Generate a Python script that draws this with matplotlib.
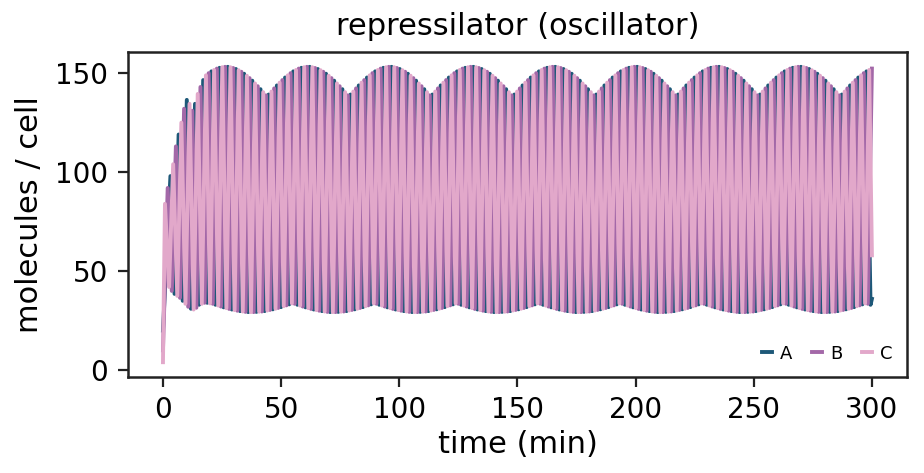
import numpy as np
import matplotlib
matplotlib.use("Agg")
import matplotlib.pyplot as plt

# ---------------- data ----------------
t_end = 300.0
period = 3.465            # apparent oscillation period (min)
first_peak = {"A": 3.16, "B": 2.005, "C": 0.85}
start_val = {"A": 20.0, "B": 10.0, "C": 4.0}
end_val = {"A": 36.0, "B": None, "C": 58.0}

C_peaks = [84, 104, 125, 134.5, 139.5,
           148.9, 151.6, 153.0, 153.0, 151.5,
           148.7, 144.8, 140.4, 140.7, 145.2, 148.9, 151.6, 153.0, 153.0, 151.5,
           148.7, 144.8, 140.4, 140.7, 145.2, 148.9, 151.6, 153.0, 153.0, 151.5,
           148.7, 144.8, 140.4, 140.7, 145.2, 148.9, 151.6, 153.0, 153.0, 151.5,
           148.7, 144.8, 140.4, 140.7, 145.2, 148.9, 151.6, 153.0, 153.0, 151.5,
           148.7, 144.8, 140.4, 140.7, 145.2, 148.9, 151.6, 153.0, 153.0, 151.5,
           148.7, 144.8, 140.4, 140.7, 145.2, 148.9, 151.6, 153.0, 153.0, 151.5,
           148.7, 144.8, 140.4, 140.7, 145.2, 148.9, 151.6, 153.0, 153.0, 151.5,
           148.7, 144.8, 140.4, 140.7, 145.2, 148.9, 151.6]
C_troughs = [42, 37.5, 33.5, 30.6, 33.5,
             33.7, 32.6, 31.3, 30.3, 29.6,
             29.3, 29.5, 30.1, 31.0, 32.3, 33.7, 32.6, 31.3, 30.3, 29.6,
             29.3, 29.5, 30.1, 31.0, 32.3, 33.7, 32.6, 31.3, 30.3, 29.6,
             29.3, 29.5, 30.1, 31.0, 32.3, 33.7, 32.6, 31.3, 30.3, 29.6,
             29.3, 29.5, 30.1, 31.0, 32.3, 33.7, 32.6, 31.3, 30.3, 29.6,
             29.3, 29.5, 30.1, 31.0, 32.3, 33.7, 32.6, 31.3, 30.3, 29.6,
             29.3, 29.5, 30.1, 31.0, 32.3, 33.7, 32.6, 31.3, 30.3, 29.6,
             29.3, 29.5, 30.1, 31.0, 32.3, 33.7, 32.6, 31.3, 30.3, 29.6,
             29.3, 29.5, 30.1, 31.0, 32.3, 33.7]

B_peaks = [92, 113, 132, 131, 143,
           150.0, 152.3, 153.2, 152.6, 150.7,
           147.5, 143.4, 138.8, 142.3, 146.5, 150.0, 152.3, 153.2, 152.6, 150.7,
           147.5, 143.4, 138.8, 142.3, 146.5, 150.0, 152.3, 153.2, 152.6, 150.7,
           147.5, 143.4, 138.8, 142.3, 146.5, 150.0, 152.3, 153.2, 152.6, 150.7,
           147.5, 143.4, 138.8, 142.3, 146.5, 150.0, 152.3, 153.2, 152.6, 150.7,
           147.5, 143.4, 138.8, 142.3, 146.5, 150.0, 152.3, 153.2, 152.6, 150.7,
           147.5, 143.4, 138.8, 142.3, 146.5, 150.0, 152.3, 153.2, 152.6, 150.7,
           147.5, 143.4, 138.8, 142.3, 146.5, 150.0, 152.3, 153.2, 152.6, 150.7,
           147.5, 143.4, 138.8, 142.3, 146.5, 150.0, 152.3]
B_troughs = [40, 36.5, 32, 31.5, 34,
             33.5, 32.1, 30.9, 30.0, 29.4,
             29.3, 29.6, 30.4, 31.4, 32.7, 33.5, 32.1, 30.9, 30.0, 29.4,
             29.3, 29.6, 30.4, 31.4, 32.7, 33.5, 32.1, 30.9, 30.0, 29.4,
             29.3, 29.6, 30.4, 31.4, 32.7, 33.5, 32.1, 30.9, 30.0, 29.4,
             29.3, 29.6, 30.4, 31.4, 32.7, 33.5, 32.1, 30.9, 30.0, 29.4,
             29.3, 29.6, 30.4, 31.4, 32.7, 33.5, 32.1, 30.9, 30.0, 29.4,
             29.3, 29.6, 30.4, 31.4, 32.7, 33.5, 32.1, 30.9, 30.0, 29.4,
             29.3, 29.6, 30.4, 31.4, 32.7, 33.5, 32.1, 30.9, 30.0, 29.4,
             29.3, 29.6, 30.4, 31.4, 32.7, 33.5]

A_peaks = [98, 119, 136.5, 134.5, 146.5,
           150.9, 152.7, 153.2, 152.1, 149.7,
           146.2, 141.9, 139.2, 143.8, 147.8, 150.9, 152.7, 153.2, 152.1, 149.7,
           146.2, 141.9, 139.2, 143.8, 147.8, 150.9, 152.7, 153.2, 152.1, 149.7,
           146.2, 141.9, 139.2, 143.8, 147.8, 150.9, 152.7, 153.2, 152.1, 149.7,
           146.2, 141.9, 139.2, 143.8, 147.8, 150.9, 152.7, 153.2, 152.1, 149.7,
           146.2, 141.9, 139.2, 143.8, 147.8, 150.9, 152.7, 153.2, 152.1, 149.7,
           146.2, 141.9, 139.2, 143.8, 147.8, 150.9, 152.7, 153.2, 152.1, 149.7,
           146.2, 141.9, 139.2, 143.8, 147.8, 150.9, 152.7, 153.2, 152.1, 149.7,
           146.2, 141.9, 139.2, 143.8, 147.8, 150.9]
A_troughs = [38.5, 35, 31, 33, 34,
             33.0, 31.7, 30.6, 29.8, 29.3,
             29.4, 29.8, 30.7, 31.8, 33.2, 33.0, 31.7, 30.6, 29.8, 29.3,
             29.4, 29.8, 30.7, 31.8, 33.2, 33.0, 31.7, 30.6, 29.8, 29.3,
             29.4, 29.8, 30.7, 31.8, 33.2, 33.0, 31.7, 30.6, 29.8, 29.3,
             29.4, 29.8, 30.7, 31.8, 33.2, 33.0, 31.7, 30.6, 29.8, 29.3,
             29.4, 29.8, 30.7, 31.8, 33.2, 33.0, 31.7, 30.6, 29.8, 29.3,
             29.4, 29.8, 30.7, 31.8, 33.2, 33.0, 31.7, 30.6, 29.8, 29.3,
             29.4, 29.8, 30.7, 31.8, 33.2, 33.0, 31.7, 30.6, 29.8, 29.3,
             29.4, 29.8, 30.7, 31.8, 33.2, 33.0]

series = {"A": (A_peaks, A_troughs), "B": (B_peaks, B_troughs), "C": (C_peaks, C_troughs)}
colors = {"A": "#1d5878", "B": "#a368a8", "C": "#e2a8ca"}


def build(name):
    peaks, troughs = series[name]
    tp = first_peak[name] + period * np.arange(len(peaks))
    tt = first_peak[name] + period / 2 + period * np.arange(len(troughs))
    t = np.concatenate([[0.0], tp, tt])
    v = np.concatenate([[start_val[name]], peaks, troughs])
    if end_val[name] is not None:
        t = np.append(t, t_end)
        v = np.append(v, end_val[name])
    order = np.argsort(t, kind="stable")
    t, v = t[order], v[order]
    keep = t <= t_end + 1e-9
    return t[keep], v[keep]


# ---------------- figure ----------------
fig = plt.figure(figsize=(4.62, 2.365), dpi=200)
ax = fig.add_axes([0.138, 0.203, 0.844, 0.687])

for name in ["A", "B", "C"]:
    t, v = build(name)
    ax.plot(t, v, color=colors[name], lw=1.4, label=name, solid_joinstyle="round")

ax.set_title("repressilator (oscillator)", fontsize=11)
ax.set_xlabel("time (min)", fontsize=11, labelpad=2)
ax.set_ylabel("molecules / cell", fontsize=11, labelpad=4)
ax.set_xticks([0, 50, 100, 150, 200, 250, 300])
ax.set_yticks([0, 50, 100, 150])
ax.tick_params(labelsize=10, width=0.8, length=3.5, color="#222222")
for s in ax.spines.values():
    s.set_linewidth(0.9)
    s.set_color("#222222")

leg = ax.legend(loc="lower right", ncol=3, frameon=False, fontsize=6.5,
                handlelength=0.55, handletextpad=0.45, columnspacing=1.1,
                borderaxespad=0.4)

fig.savefig("out.png", dpi=200)
